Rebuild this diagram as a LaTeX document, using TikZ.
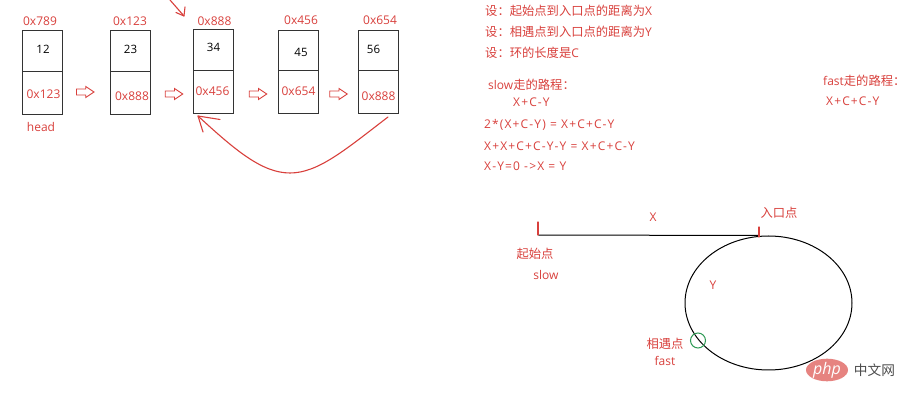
\documentclass[tikz,border=0pt]{standalone}
\usepackage{fontspec}
\setmainfont{Open Sans}
\newfontfamily\cjk{Noto Sans CJK SC}
\newfontfamily\eqfont[LetterSpace=9.5]{Open Sans}
\usetikzlibrary{shapes.geometric}
\definecolor{rd}{HTML}{D8403C}
\definecolor{gn}{HTML}{2E9A55}
\definecolor{bx}{HTML}{333333}
\tikzset{
  x=1pt,y=-1pt,
  red text/.style={text=rd,font=\fontsize{12}{14}\selectfont,inner sep=0pt},
  left text/.style={red text,anchor=west},
  eqn text/.style={text=rd,font=\eqfont\fontsize{12}{14}\selectfont,inner sep=0pt,anchor=west,text height=8.6pt,text depth=0pt},
  blk text/.style={text=black,font=\fontsize{11.5}{13}\selectfont,inner sep=0pt},
  cell/.style={draw=bx,line width=1pt,minimum width=40pt,inner sep=0pt},
  stroke/.style={draw=rd,line width=1.1pt,line cap=round,line join=round},
  hollow/.pic={\draw[draw=rd,line width=.9pt,line join=miter,fill=white] (-8.75,-3) -- (0.5,-3) -- (0.5,-5.5) -- (8.75,0) -- (0.5,5.5) -- (0.5,3) -- (-8.75,3) -- cycle;},
}
\newcommand{\zh}[1]{{\cjk\fontsize{12.3}{14}\selectfont #1}}
\begin{document}
\begin{tikzpicture}
\useasboundingbox (0,0) rectangle (906,403);
% boxes
\node[cell,minimum height=41pt] (a1) at (42,51) {};
\node[cell,minimum height=43.5pt] (a2) at (42,93.25) {};
\node[cell,minimum height=41pt] (b1) at (130.5,51) {};
\node[cell,minimum height=43.5pt] (b2) at (130.5,93.25) {};
\node[cell,minimum height=41pt] (c1) at (213,50.5) {};
\node[cell,minimum height=43pt] (c2) at (213,92.5) {};
\node[cell,minimum height=40.5pt] (d1) at (298.5,50.5) {};
\node[cell,minimum height=43.5pt] (d2) at (298.5,92.25) {};
\node[cell,minimum height=40.5pt] (e1) at (378,50.5) {};
\node[cell,minimum height=43.5pt] (e2) at (378,92.25) {};
% cell text
\node[blk text] (t1) at (43,49.5) {12};
\node[blk text] (t2) at (130.5,49.5) {23};
\node[blk text] (t3) at (213.5,47.5) {34};
\node[blk text] (t4) at (301,52) {45};
\node[blk text] (t5) at (373.5,49.5) {56};
\node[red text] (p1) at (43.5,94) {0x123};
\node[red text] (p2) at (132,96.5) {0x888};
\node[red text] (p3) at (212.5,91) {0x456};
\node[red text] (p4) at (298.5,91.5) {0x654};
\node[red text] (p5) at (378.5,96.5) {0x888};
% addresses
\node[red text] (h1) at (40,21.5) {0x789};
\node[red text] (h2) at (130,21.5) {0x123};
\node[red text] (h3) at (214.5,21.5) {0x888};
\node[red text] (h4) at (301,20.5) {0x456};
\node[red text] (h5) at (380,20) {0x654};
\node[red text] (head) at (41,127) {head};
% hollow arrows
\pic at (85.25,92) {hollow};
\pic at (174,94) {hollow};
\pic at (258,94) {hollow};
\pic at (338.5,94) {hollow};
% back arrow
\coordinate (bs) at (388,117);
\coordinate (be) at (198,116);
\draw[stroke] (bs) .. controls (345,150) and (318,173) .. (290,173) .. controls (262,173) and (235,150) .. (be);
\draw[stroke] (220,119.5) -- (be) -- (203,132);
% top arrow
\coordinate (ts) at (170,0);
\coordinate (te) at (184,16);
\draw[stroke] (ts) -- (te);
\draw[stroke] (176,12.5) -- (te) -- (185,7);
% right text
\node[left text] (s1) at (485,11) {\zh{设：起始点到入口点的距离为}X};
\node[left text] (s2) at (485,32) {\zh{设：相遇点到入口点的距离为}Y};
\node[left text] (s3) at (485,53) {\zh{设：环的长度是}C};
\node[left text] (s4) at (488,85) {slow\zh{走的路程：}};
\node[eqn text] (s5) at (513,102.7) {X+C-Y};
\node[eqn text] (s6) at (484,124.4) {2*(X+C-Y) = X+C+C-Y};
\node[eqn text] (s7) at (484,146.2) {X+X+C+C-Y-Y = X+C+C-Y};
\node[eqn text] (s8) at (484,166.7) {X-Y=0 ->X = Y};
\node[left text] (f1) at (823,81) {fast\zh{走的路程：}};
\node[eqn text] (f2) at (826,101.7) {X+C+C-Y};
% lower diagram
\node[draw=black,line width=1pt,shape=ellipse,minimum width=167pt,minimum height=134pt,inner sep=0pt] (ring) at (768.5,303) {};
\coordinate (start) at (538,235);
\coordinate (entry) at (759,235.5);
\draw[black,line width=1pt] (start) -- (entry);
\draw[stroke] (538,222) -- (start);
\draw[stroke] (759,227) -- (759,237);
\node[red text] (x) at (653,217) {X};
\node[red text] (in) at (779,213) {\zh{入口点}};
\node[red text] (st) at (535,254) {\zh{起始点}};
\node[red text] (sl) at (546,275) {slow};
\node[red text] (y) at (713,285) {Y};
\node[red text] (m) at (665,344) {\zh{相遇点}};
\node[red text] (fa) at (665,361) {fast};
\node[draw=gn,line width=1pt,shape=circle,minimum size=15pt,inner sep=0pt] (meet) at (698,340.5) {};
% watermark
\node[shape=ellipse,fill=rd!65,minimum width=42pt,minimum height=21pt,inner sep=0pt,text=white,font=\fontsize{16}{16}\selectfont\itshape] (php) at (827,370) {php};
\node[inner sep=0pt,text=black!70,font=\cjk\fontsize{13.7}{14}\selectfont] (cn) at (874.5,370) {中文网};
\end{tikzpicture}
\end{document}
